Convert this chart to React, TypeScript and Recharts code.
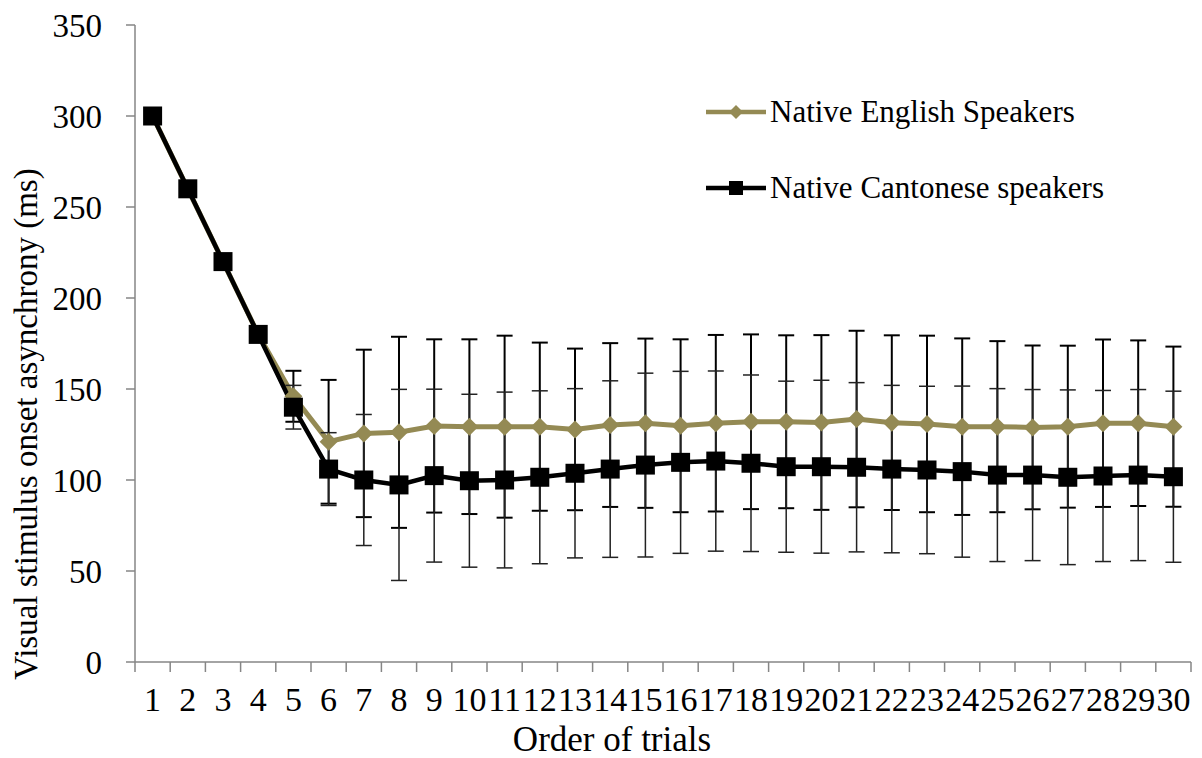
import React from "react";
import { LineChart, Line, XAxis, YAxis, ErrorBar, Label } from "recharts";

const trials = Array.from({ length: 30 }, (_, i) => i + 1);

const englishMeans = [
  300, 260, 220, 180, 146, 121, 125.6, 126.2, 129.7, 129.3, 129.3, 129.3, 127.8, 130.2, 131.2,
  129.8, 131.2, 132, 132, 131.6, 133.5, 131.5, 130.8, 129.3, 129.3, 128.9, 129.3, 131.2, 131.2, 129.3,
];
const englishSd = [
  null, null, null, null, 14, 34, 46, 52.5, 47.6, 48, 50, 46.2, 44.4, 45, 46.5,
  47.5, 48.5, 48, 47.5, 48, 48.5, 48, 48.5, 48.5, 47, 45, 44.5, 46, 45.5, 44,
];
const cantoneseMeans = [
  300, 260, 220, 180, 140, 106, 100, 97.3, 102.4, 99.6, 100, 101.5, 103.7, 106, 108.2,
  109.7, 110.4, 109.2, 107.3, 107.3, 107, 106, 105.5, 104.6, 102.7, 102.7, 101.5, 102.2, 102.7, 101.8,
];
const cantoneseSd = [
  null, null, null, null, 12, 20, 36, 52.5, 47.5, 47.5, 48.3, 47.5, 46.5, 48.5, 50.5,
  50, 49.5, 48.5, 47, 47.5, 46.5, 46, 46, 47, 47.5, 47, 48, 47, 47, 47,
];
const yTicks = [0, 50, 100, 150, 200, 250, 300, 350];

const TAN = "#948A54";
const AXIS = "#868686";
const FONT = '"Liberation Serif", "Times New Roman", serif';

const series = [
  { key: "eng", name: "Native English Speakers", color: TAN, shape: "diamond" },
  { key: "can", name: "Native Cantonese speakers", color: "#000000", shape: "square" },
];

const data = trials.map((t, i) => ({
  trial: t,
  eng: englishMeans[i],
  engSd: englishSd[i],
  can: cantoneseMeans[i],
  canSd: cantoneseSd[i],
}));

// category boundaries, Excel style ticks between trials
const boundaries = [trials[0] - 0.5, ...trials.map((t) => t + 0.5)];

const Diamond = (props: any) => {
  const { cx, cy, index } = props;
  if (cx == null || cy == null) return null;
  const r = 9;
  return (
    <path
      key={`d-${index}`}
      d={`M${cx},${cy - r}L${cx + r},${cy}L${cx},${cy + r}L${cx - r},${cy}Z`}
      fill={TAN}
    />
  );
};

const Square = (props: any) => {
  const { cx, cy, index } = props;
  if (cx == null || cy == null) return null;
  const h = 9.5;
  return <rect key={`s-${index}`} x={cx - h} y={cy - h} width={h * 2} height={h * 2} fill="#000" />;
};

const XTick = (props: any) => {
  const { x, y, payload, width } = props;
  const v = payload.value;
  if (v > trials[trials.length - 1]) return null;
  const half = (width ?? 1056) / trials.length / 2;
  return (
    <text x={x + half} y={y + 39} textAnchor="middle" fontFamily={FONT} fontSize={34} fill="#000">
      {v + 0.5}
    </text>
  );
};

const LegendIcon = ({ shape, color }: { shape: string; color: string }) => (
  <svg width={60} height={24} style={{ display: "block" }}>
    <line x1={0} y1={12} x2={60} y2={12} stroke={color} strokeWidth={4.5} />
    {shape === "diamond" ? (
      <path d="M30,5L37,12L30,19L23,12Z" fill={color} />
    ) : (
      <rect x={23} y={5} width={14} height={14} fill={color} />
    )}
  </svg>
);

export default function App() {
  return (
    <div style={{ position: "absolute", left: 0, top: 0, width: 1202, height: 758, background: "#fff" }}>
      <LineChart width={1202} height={758} data={data} margin={{ top: 25, right: 11, left: 0, bottom: 0 }}>
        <XAxis
          dataKey="trial"
          type="number"
          domain={[boundaries[0], boundaries[boundaries.length - 1]]}
          ticks={boundaries}
          interval={0}
          height={96}
          tick={<XTick />}
          tickSize={10}
          tickMargin={0}
          axisLine={{ stroke: AXIS, strokeWidth: 1.5 }}
          tickLine={{ stroke: AXIS, strokeWidth: 1.5 }}
        >
          <Label
            content={() => (
              <text x={612} y={751} textAnchor="middle" fontFamily={FONT} fontSize={35} fill="#000">
                Order of trials
              </text>
            )}
          />
        </XAxis>
        <YAxis
          width={135}
          domain={[0, 350]}
          ticks={yTicks}
          interval={0}
          tickSize={9}
          tickMargin={24}
          axisLine={{ stroke: AXIS, strokeWidth: 1.5 }}
          tickLine={{ stroke: AXIS, strokeWidth: 1.5 }}
          tick={{ fill: "#000", fontSize: 33, fontFamily: FONT }}
        >
          <Label
            content={() => (
              <text
                x={37}
                y={424}
                transform="rotate(-90, 37, 424)"
                textAnchor="middle"
                fontFamily={FONT}
                fontSize={33}
                fill="#000"
              >
                Visual stimulus onset asynchrony (ms)
              </text>
            )}
          />
        </YAxis>
        <Line
          dataKey="eng"
          name={series[0].name}
          stroke={TAN}
          strokeWidth={5}
          dot={Diamond}
          activeDot={false}
          isAnimationActive={false}
        >
          <ErrorBar dataKey="engSd" direction="y" width={8} stroke="#000" strokeWidth={2} isAnimationActive={false} />
        </Line>
        <Line
          dataKey="can"
          name={series[1].name}
          stroke="#000"
          strokeWidth={4.5}
          dot={Square}
          activeDot={false}
          isAnimationActive={false}
        >
          <ErrorBar dataKey="canSd" direction="y" width={8} stroke="#222" strokeWidth={1.5} isAnimationActive={false} />
        </Line>
      </LineChart>
      {series.map((s, i) => (
        <div
          key={s.key}
          style={{
            position: "absolute",
            left: 706,
            top: 94 + i * 76,
            display: "flex",
            alignItems: "center",
            height: 36,
            fontFamily: FONT,
            fontSize: 31,
            color: "#000",
            whiteSpace: "nowrap",
          }}
        >
          <LegendIcon shape={s.shape} color={s.color} />
          <span style={{ marginLeft: 4 }}>{s.name}</span>
        </div>
      ))}
    </div>
  );
}
